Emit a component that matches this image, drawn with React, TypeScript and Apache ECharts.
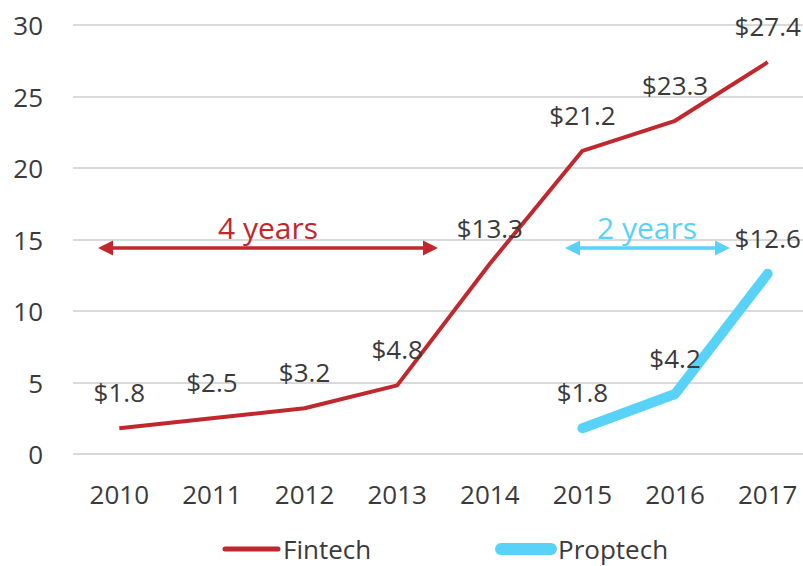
import React, { useEffect, useRef } from "react";
import * as echarts from "echarts";

const years = ["2010", "2011", "2012", "2013", "2014", "2015", "2016", "2017"];
const fintech = [1.8, 2.5, 3.2, 4.8, 13.3, 21.2, 23.3, 27.4];
const proptech = [null, null, null, null, null, 1.8, 4.2, 12.6];
const yTicks = { min: 0, max: 30, interval: 5 };

const RED = "#c0282d";
const CYAN = "#58d3f7";
const TXT = "#3a3a3a";
const FONT = "'Open Sans', 'Noto Sans', sans-serif";

function arrow(x1: number, x2: number, y: number, color: string, w: number) {
  const hl = 15, hh = 7.5;
  return [
    { type: "line", shape: { x1: x1 + hl - 2, y1: y, x2: x2 - hl + 2, y2: y }, style: { stroke: color, lineWidth: w }, z: 10 },
    { type: "polygon", shape: { points: [[x1, y], [x1 + hl, y - hh], [x1 + hl, y + hh]] }, style: { fill: color }, z: 10 },
    { type: "polygon", shape: { points: [[x2, y], [x2 - hl, y - hh], [x2 - hl, y + hh]] }, style: { fill: color }, z: 10 },
  ];
}

export default function App() {
  const ref = useRef<HTMLDivElement>(null);
  useEffect(() => {
    document.body.style.margin = "0";
    const chart = echarts.init(ref.current!, null, { renderer: "svg" });
    const labelStyle = {
      show: true,
      position: "top",
      distance: 23,
      color: TXT,
      fontSize: 26,
      fontFamily: FONT,
      formatter: (p: any) => "$" + p.value,
    };
    chart.setOption({
      animation: false,
      grid: { left: 73, top: 25, right: -11, bottom: 112, outerBoundsMode: "none", containLabel: false },
      xAxis: {
        type: "category",
        data: years,
        boundaryGap: true,
        axisLine: { show: false },
        axisTick: { show: false },
        axisLabel: { color: TXT, fontSize: 26, fontFamily: FONT, margin: 27 },
      },
      yAxis: {
        type: "value",
        min: yTicks.min,
        max: yTicks.max,
        interval: yTicks.interval,
        axisLine: { show: false },
        axisTick: { show: false },
        axisLabel: { color: TXT, fontSize: 26, fontFamily: FONT, margin: 30 },
        splitLine: { lineStyle: { color: "#d9d9d9", width: 2 } },
      },
      series: [
        {
          name: "Fintech",
          type: "line",
          data: fintech,
          symbol: "circle",
          symbolSize: 0,
          showSymbol: true,
          lineStyle: { color: RED, width: 4 },
          itemStyle: { color: RED },
          label: labelStyle,
          z: 3,
        },
        {
          name: "Proptech",
          type: "line",
          data: proptech,
          symbol: "circle",
          symbolSize: 0,
          showSymbol: true,
          lineStyle: { color: CYAN, width: 10, cap: "round", join: "round" },
          itemStyle: { color: CYAN },
          label: labelStyle,
          z: 2,
        },
      ],
      graphic: [
        ...arrow(98, 438, 248, RED, 3.5),
        ...arrow(565, 730, 248, CYAN, 3.5),
        { type: "text", x: 268, y: 227, style: { text: "4 years", fill: RED, fontSize: 30, fontFamily: FONT, align: "center", verticalAlign: "middle" }, z: 11 },
        { type: "text", x: 647, y: 227, style: { text: "2 years", fill: CYAN, fontSize: 30, fontFamily: FONT, align: "center", verticalAlign: "middle" }, z: 11 },
        { type: "line", shape: { x1: 225, y1: 549, x2: 278, y2: 549 }, style: { stroke: RED, lineWidth: 5, lineCap: "round" } },
        { type: "text", x: 283, y: 549, style: { text: "Fintech", fill: TXT, fontSize: 26, fontFamily: FONT, align: "left", verticalAlign: "middle" } },
        { type: "line", shape: { x1: 501, y1: 549, x2: 551, y2: 549 }, style: { stroke: CYAN, lineWidth: 12, lineCap: "round" } },
        { type: "text", x: 558, y: 549, style: { text: "Proptech", fill: TXT, fontSize: 26, fontFamily: FONT, align: "left", verticalAlign: "middle" } },
      ],
    });
    return () => chart.dispose();
  }, []);
  return <div ref={ref} style={{ width: 803, height: 566 }} />;
}
